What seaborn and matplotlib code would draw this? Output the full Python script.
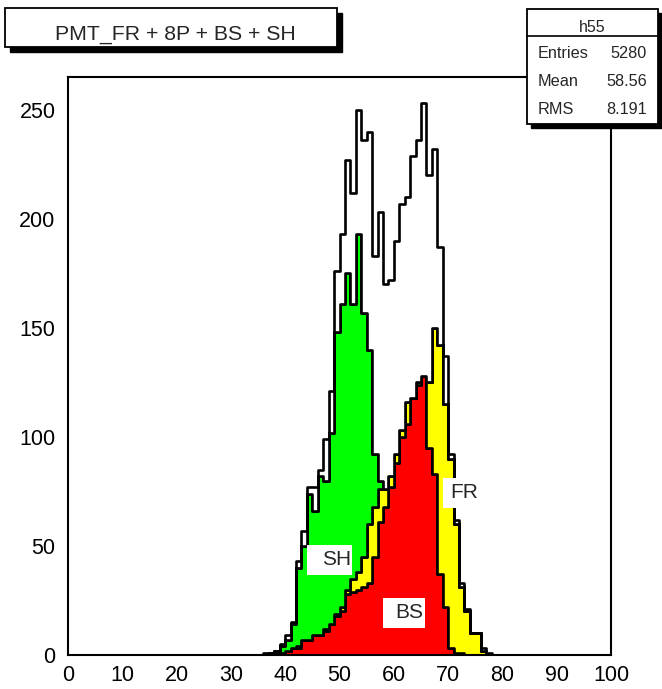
import numpy as np
import pandas as pd
import matplotlib
matplotlib.use("Agg")
import matplotlib.pyplot as plt
from matplotlib.patches import Rectangle
from matplotlib.ticker import MultipleLocator
import seaborn as sns

# lower edges of the 1-unit bins that have entries
bins = list(range(36, 78))

# counts per component (stack order from the bottom: BS, FR, SH, 8P)
bs = [0, 0, 1, 1, 2, 3, 3, 7, 7, 9, 9, 11, 14, 18, 20, 28, 29, 30, 31, 33, 45,
      61, 68, 77, 88, 100, 106, 118, 124, 128, 95, 83, 37, 22, 3, 1, 1, 0, 0, 0, 0, 0]
fr = [0, 0, 0, 0, 0, 0, 1, 0, 0, 0, 0, 1, 0, 1, 2, 2, 6, 8, 14, 27, 23,
      15, 8, 5, 4, 3, 10, 0, 1, 0, 30, 67, 105, 93, 87, 59, 30, 20, 10, 10, 2, 0]
sh = [0, 1, 1, 3, 5, 11, 36, 43, 67, 57, 73, 68, 88, 129, 139, 145, 126, 155, 112, 80, 24,
      4, 0, 0, 0, 0, 0, 0, 0, 0, 0, 0, 0, 0, 0, 0, 0, 0, 0, 0, 0, 0]
p8 = [1, 0, 0, 1, 2, 1, 3, 7, 3, 11, 3, 19, 19, 28, 32, 52, 51, 57, 79, 100, 91,
      123, 94, 90, 98, 104, 94, 111, 111, 125, 95, 82, 45, 22, 2, 2, 2, 1, 0, 0, 1, 1]

stats = [("Entries", "5280"), ("Mean", "58.56"), ("RMS", "8.191")]

W, H = 662, 689


def fig_xy(x, y):
    # pixel position (top-left origin) -> figure fraction
    return x / W, 1 - y / H


def px_to_data(x, y):
    return (x - 68) / 5.43, (655 - y) / 2.18


sns.set_style("white")
plt.rcParams["font.family"] = ["Liberation Sans", "DejaVu Sans"]

rows = []
for name, vals in [("8P", p8), ("SH", sh), ("FR", fr), ("BS", bs)]:
    for b, v in zip(bins, vals):
        rows.append({"x": b + 0.5, "n": v, "comp": name})
df = pd.DataFrame(rows)

colors = {"8P": "white", "SH": "#00ff00", "FR": "#ffff00", "BS": "#ff0000"}

fig = plt.figure(figsize=(W / 100, H / 100), dpi=100)
fig.patch.set_facecolor("white")
ax = fig.add_axes([68 / W, 34 / H, 543 / W, 578 / H])

sns.histplot(data=df, x="x", weights="n", hue="comp",
             hue_order=["8P", "SH", "FR", "BS"], multiple="stack",
             element="step", binwidth=1, binrange=(0, 100), palette=colors,
             alpha=1, edgecolor="black", linewidth=1.9, legend=False, ax=ax)

ax.set_xlim(0, 100)
ax.set_ylim(0, 265)
ax.set_xlabel("")
ax.set_ylabel("")
ax.xaxis.set_major_locator(MultipleLocator(10))
ax.xaxis.set_minor_locator(MultipleLocator(2))
ax.yaxis.set_major_locator(MultipleLocator(50))
ax.yaxis.set_minor_locator(MultipleLocator(10))
ax.tick_params(which="both", direction="in", colors="black", width=1.3,
               top=False, right=False, labelsize=15.5)
ax.tick_params(which="major", length=14)
ax.tick_params(which="minor", length=7)
ax.tick_params(axis="y", pad=9)
ax.tick_params(axis="x", pad=7)
for s in ax.spines.values():
    s.set_color("black")
    s.set_linewidth(1.5)

# white label boxes inside the plot
for lab, (x0, y0, x1, y1), (tx, ty) in [
        ("SH", (307, 545, 352, 575), (337, 560)),
        ("BS", (383, 598, 425, 628), (409, 613)),
        ("FR", (443, 478, 485, 508), (464, 493))]:
    a0, b0 = px_to_data(x0, y1)
    a1, b1 = px_to_data(x1, y0)
    ax.add_patch(Rectangle((a0, b0), a1 - a0, b1 - b0, facecolor="white",
                           edgecolor="none", zorder=5))
    cx, cy = px_to_data(tx, ty)
    ax.text(cx, cy, lab, ha="center", va="center", fontsize=15, zorder=6)


def box(x0, y0, x1, y1, shadow):
    bx, by = fig_xy(x0 + shadow, y1 + shadow)
    fig.add_artist(Rectangle((bx, by), (x1 - x0) / W, (y1 - y0) / H,
                             transform=fig.transFigure, facecolor="black",
                             edgecolor="black", zorder=10))
    bx, by = fig_xy(x0, y1)
    fig.add_artist(Rectangle((bx, by), (x1 - x0) / W, (y1 - y0) / H,
                             transform=fig.transFigure, facecolor="white",
                             edgecolor="black", linewidth=1.3, zorder=11))


# title box
box(5, 8, 337, 47, 5)
tx, ty = fig_xy(175, 40)
fig.text(tx, ty, "PMT_FR + 8P + BS + SH", ha="center", va="baseline",
         fontsize=15.3, zorder=12)

# stats box
box(527, 9, 658, 124, 4)
lx0, ly = fig_xy(527, 36)
lx1, _ = fig_xy(658, 36)
fig.add_artist(plt.Line2D([lx0, lx1], [ly, ly], transform=fig.transFigure,
                          color="black", linewidth=1.2, zorder=12))
hx, hy = fig_xy(592, 31.5)
fig.text(hx, hy, "h55", ha="center", va="baseline", fontsize=11.5, zorder=12)
for i, (k, v) in enumerate(stats):
    kx, ky = fig_xy(538, 58 + 28 * i)
    vx, _ = fig_xy(647, 58 + 28 * i)
    fig.text(kx, ky, k, ha="left", va="baseline", fontsize=11.7, zorder=12)
    fig.text(vx, ky, v, ha="right", va="baseline", fontsize=11.7, zorder=12)

fig.savefig("out.png", dpi=100)
